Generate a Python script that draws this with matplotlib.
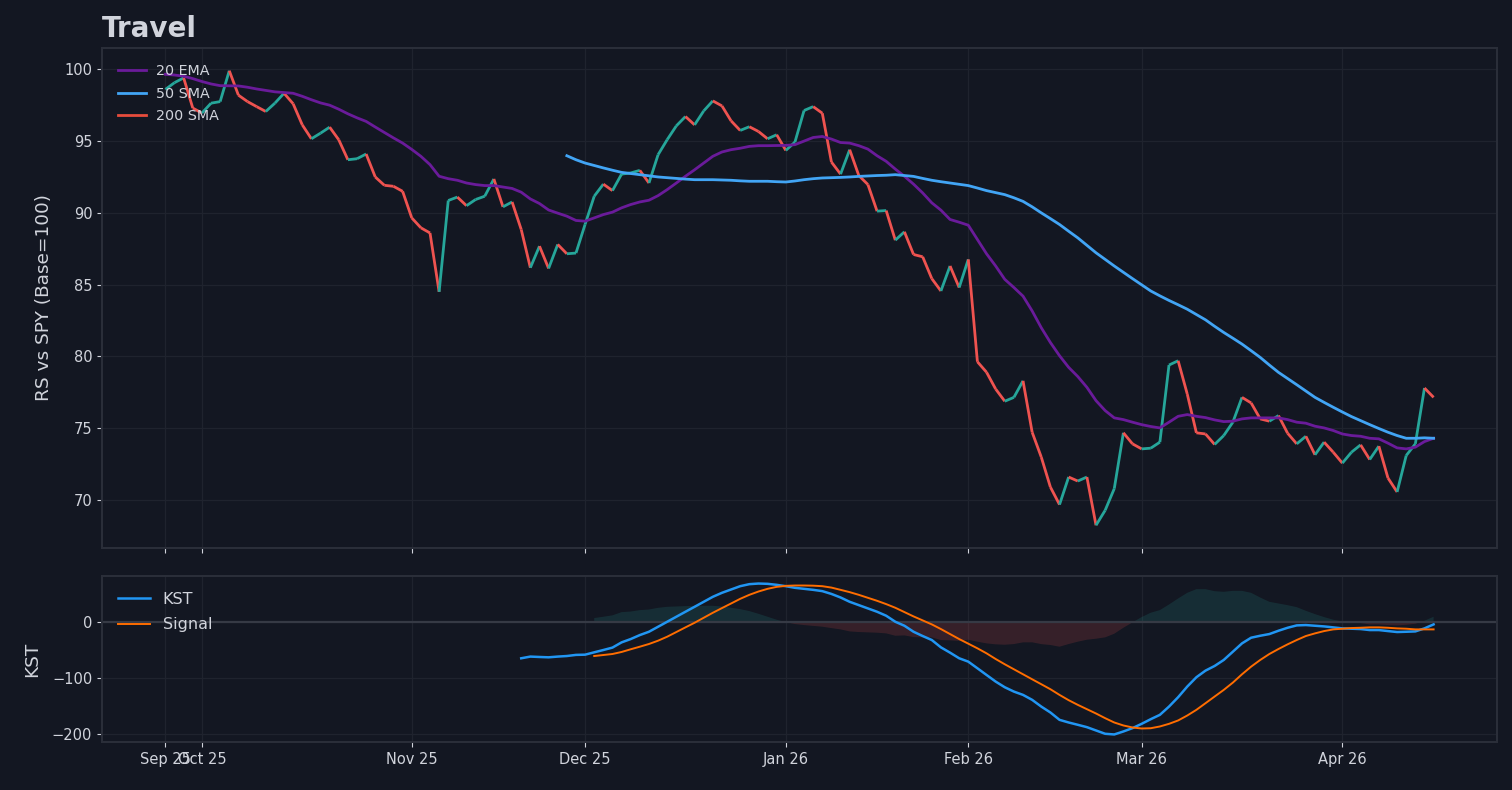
import numpy as np
import pandas as pd
import matplotlib
matplotlib.use("Agg")
import matplotlib.pyplot as plt
from matplotlib.collections import LineCollection

BG = "#131722"
TEXT = "#d1d4dc"
SPINE = "#2a2e39"
GRID = "#1f232e"

# trading days shown (US market holidays removed)
holidays = ["2025-11-27", "2025-12-25", "2026-01-01", "2026-01-19",
            "2026-02-16", "2026-04-03"]
dates = pd.bdate_range("2025-09-25", "2026-04-16")
dates = dates[~dates.isin(pd.to_datetime(holidays))]

# RS vs SPY (base = 100)
rs = [98.6, 99.07, 99.4, 97.3, 96.95, 97.64, 97.75, 99.9, 98.2, 97.75,
      97.4, 97.06, 97.64, 98.33, 97.6, 96.13, 95.16, 95.55, 95.97, 95.09,
      93.7, 93.77, 94.1, 92.5, 91.92, 91.85, 91.5, 89.65, 88.96, 88.6,
      84.5, 90.86, 91.1, 90.5, 90.93, 91.16, 92.36, 90.42, 90.76, 88.84,
      86.18, 87.68, 86.13, 87.8, 87.15, 87.2, 89.2, 91.16, 92.0, 91.55,
      92.7, 92.78, 92.96, 92.08, 94.05, 95.1, 96.06, 96.71, 96.13, 97.1,
      97.8, 97.45, 96.41, 95.74, 96.0, 95.67, 95.16, 95.44, 94.35, 94.93,
      97.13, 97.4, 96.94, 93.54, 92.7, 94.4, 92.6, 91.97, 90.12, 90.16,
      88.1, 88.68, 87.1, 86.94, 85.42, 84.56, 86.3, 84.8, 86.76, 79.63,
      78.9, 77.73, 76.88, 77.15, 78.3, 74.72, 72.99, 70.9, 69.68, 71.6,
      71.32, 71.6, 68.24, 69.28, 70.79, 74.68, 73.91, 73.56, 73.61, 74.03,
      79.4, 79.7, 77.38, 74.68, 74.6, 73.87, 74.49, 75.42, 77.15, 76.76,
      75.65, 75.49, 75.88, 74.65, 73.91, 74.44, 73.15, 74.03, 73.33, 72.57,
      73.33, 73.84, 72.82, 73.75, 71.53, 70.56, 73.1, 73.91, 77.8, 77.15]

ema20 = [99.65, 99.6, 99.52, 99.35, 99.15, 98.98, 98.86, 98.85, 98.84, 98.75,
         98.63, 98.53, 98.43, 98.38, 98.33, 98.12, 97.88, 97.66, 97.5, 97.22,
         96.9, 96.62, 96.37, 95.98, 95.6, 95.22, 94.86, 94.42, 93.94, 93.36,
         92.55, 92.38, 92.27, 92.08, 91.97, 91.9, 91.9, 91.8, 91.7, 91.44,
         90.97, 90.65, 90.2, 89.98, 89.77, 89.47, 89.42, 89.65, 89.88, 90.05,
         90.35, 90.58, 90.76, 90.88, 91.2, 91.62, 92.08, 92.55, 93.0, 93.47,
         93.94, 94.24, 94.4, 94.5, 94.63, 94.68, 94.68, 94.69, 94.7, 94.75,
         95.0, 95.25, 95.32, 95.14, 94.9, 94.86, 94.68, 94.44, 93.98, 93.59,
         93.05, 92.55, 92.0, 91.39, 90.7, 90.19, 89.54, 89.35, 89.14, 88.15,
         87.15, 86.3, 85.37, 84.8, 84.2, 83.17, 82.0, 80.97, 80.05, 79.24,
         78.6, 77.85, 76.92, 76.23, 75.72, 75.6, 75.42, 75.25, 75.12, 75.02,
         75.42, 75.83, 75.95, 75.83, 75.74, 75.58, 75.46, 75.49, 75.65, 75.72,
         75.72, 75.72, 75.72, 75.6, 75.42, 75.35, 75.14, 75.02, 74.84, 74.6,
         74.49, 74.44, 74.3, 74.26, 73.96, 73.63, 73.56, 73.68, 74.07, 74.3]

sma50_start = 44
sma50 = [93.98, 93.7, 93.47, 93.3, 93.13, 92.97, 92.82, 92.74, 92.66, 92.58,
         92.5, 92.45, 92.4, 92.35, 92.31, 92.31, 92.31, 92.29, 92.27, 92.23,
         92.2, 92.2, 92.2, 92.17, 92.15, 92.22, 92.31, 92.38, 92.43, 92.45,
         92.47, 92.5, 92.54, 92.57, 92.6, 92.62, 92.66, 92.6, 92.54, 92.4,
         92.27, 92.17, 92.08, 91.99, 91.9, 91.73, 91.55, 91.41, 91.27, 91.05,
         90.8, 90.42, 90.0, 89.6, 89.19, 88.72, 88.26, 87.74, 87.22, 86.76,
         86.3, 85.86, 85.42, 84.99, 84.56, 84.22, 83.9, 83.6, 83.29, 82.92,
         82.55, 82.1, 81.67, 81.27, 80.86, 80.4, 79.93, 79.4, 78.89, 78.46,
         78.03, 77.59, 77.15, 76.8, 76.46, 76.13, 75.81, 75.53, 75.25, 74.98,
         74.72, 74.49, 74.3, 74.3, 74.33, 74.3]

kst_start = 39
kst = [-65, -62, -62.7, -63.3, -62, -61, -59, -58.6, -54.4, -50.3,
       -46, -36.7, -30.8, -23.7, -17.8, -8.9, 0, 8.9, 17.8, 26.6,
       35.5, 44.4, 51.5, 57.4, 63.3, 66.9, 68, 67.5, 65.7, 63.3,
       60.4, 58.6, 56.8, 54.5, 49.5, 43.2, 35.5, 29.6, 23.7, 17.8,
       10.7, 0, -7.1, -17.8, -25.4, -32.5, -45.6, -55, -65, -71,
       -82.8, -94.7, -106.5, -116.6, -124.3, -130.2, -139, -151, -161.5, -174.6,
       -179.3, -183.4, -187.6, -193.5, -199.4, -200.6, -195.3, -189.3, -181.7, -173.4,
       -165.7, -151, -134.3, -115.4, -98.8, -87, -78.7, -68, -53.3, -38.5,
       -28.4, -24.9, -21.9, -16, -10.7, -6.5, -5.9, -7.1, -8.3, -10,
       -11.8, -12.4, -13, -14.8, -14.8, -16.6, -18.3, -17.8, -17.2, -11.8,
       -4.7]

signal_start = 47
signal = [-61, -59.2, -57.4, -53.8, -49, -44.4, -39.6, -33.7, -26.6, -18.3,
          -10, -1.8, 7.1, 16, 24.3, 32.5, 40.8, 47.9, 53.8, 58.6,
          62.1, 63.9, 64.5, 64.5, 64.2, 63.3, 60.8, 56.8, 52.7, 47.9,
          42.6, 37.3, 31.4, 24.9, 17.2, 9.5, 2.4, -4.7, -13, -21.9,
          -30.8, -39, -47.3, -56.2, -66.3, -75.7, -84.6, -93.5, -102.4, -111.2,
          -120.1, -130.2, -139.6, -147.9, -155.6, -163.3, -171.6, -179.3, -184.6, -188.2,
          -190, -189.5, -186.4, -181.7, -175.7, -166.9, -156.8, -145, -133.1, -121.3,
          -108.3, -93.5, -79.9, -68, -57.4, -48.5, -40.2, -32.5, -25.4, -20.7,
          -16.6, -13.6, -12.4, -11.2, -10.7, -10, -10, -10.7, -11.8, -12.4,
          -13.6, -13.6, -13.6]

days = np.arange(len(dates))
rs = np.array(rs)
sma_days = days[sma50_start:sma50_start + len(sma50)]
kst_days = days[kst_start:kst_start + len(kst)]
sig_days = days[signal_start:signal_start + len(signal)]

fig = plt.figure(figsize=(15.12, 7.9), dpi=100, facecolor=BG)
ax1 = fig.add_axes([102 / 1512, 242 / 790, 1395 / 1512, 500 / 790])
ax2 = fig.add_axes([102 / 1512, 48 / 790, 1395 / 1512, 166 / 790], sharex=ax1)

for ax in (ax1, ax2):
    ax.set_facecolor(BG)
    for s in ax.spines.values():
        s.set_color(SPINE)
        s.set_linewidth(1.5)
    ax.grid(True, color=GRID, linewidth=0.9)
    ax.set_axisbelow(True)
    ax.tick_params(colors=TEXT, labelcolor=TEXT, labelsize=10.5)

# --- price panel ---
pts = np.column_stack([days, rs])
segs = np.stack([pts[:-1], pts[1:]], axis=1)
seg_colors = np.where(np.diff(rs) >= 0, "#26a69a", "#ef5350")
ax1.add_collection(LineCollection(segs, colors=seg_colors, linewidths=2.0))
ax1.plot(days, ema20, color="#6a1b9a", lw=2.0, label="20 EMA")
ax1.plot(sma_days, sma50, color="#42a5f5", lw=2.0, label="50 SMA")
ax1.plot([], [], color="#e74c3c", lw=2.0, label="200 SMA")
ax1.autoscale_view()
ax1.set_yticks(range(70, 101, 5))
ax1.set_ylabel("RS vs SPY (Base=100)", color=TEXT, fontsize=13.3, labelpad=8)
ax1.tick_params(labelbottom=False)
ax1.set_title("Travel", loc="left", fontsize=20, fontweight="bold", color=TEXT, pad=8)
ax1.legend(loc="upper left", frameon=False, fontsize=10.3, labelcolor=TEXT,
           labelspacing=0.62, borderaxespad=0.7, handletextpad=0.7)

# --- KST panel ---
kst_a = np.array(kst)
hist = kst_a[signal_start - kst_start:] - np.array(signal)
ax2.fill_between(sig_days, 0, hist, where=hist >= 0, interpolate=True,
                 color="#26a69a", alpha=0.16, lw=0)
ax2.fill_between(sig_days, 0, hist, where=hist < 0, interpolate=True,
                 color="#ef5350", alpha=0.16, lw=0)
ax2.axhline(0, color="#363a45", lw=1.6)
ax2.plot(kst_days, kst, color="#2196f3", lw=1.8, label="KST")
ax2.plot(sig_days, signal, color="#ff6d00", lw=1.4, label="Signal")
ax2.set_yticks([-200, -100, 0])
ax2.set_ylabel("KST", color=TEXT, fontsize=13.3, labelpad=8)
ax2.legend(loc="upper left", frameon=False, fontsize=11.5, labelcolor=TEXT,
           labelspacing=0.65, borderaxespad=0.6)

month_first = pd.Series(days, index=dates).groupby(dates.to_period("M")).first()
ax2.set_xticks(month_first.values)
ax2.set_xticklabels([dates[i].strftime("%b %y") for i in month_first.values])

fig.savefig("out.png", dpi=100, facecolor=BG)
